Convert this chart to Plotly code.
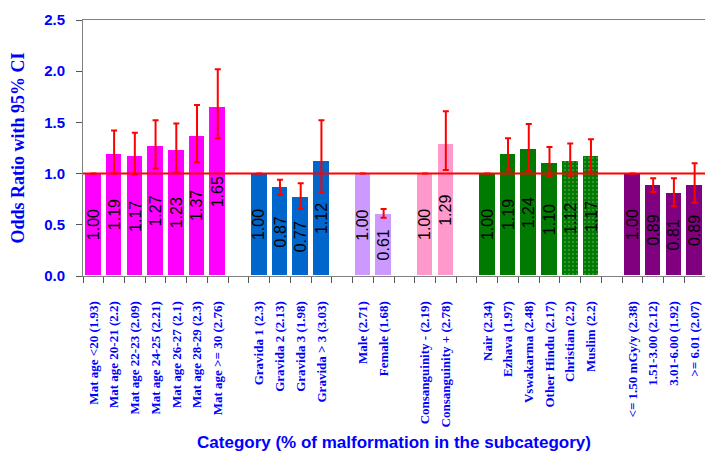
import plotly.graph_objects as go

# --- data ---
groups = [
    ["Mat age <20 (1.93)", "Mat age 20-21 (2.2)", "Mat age 22-23 (2.09)", "Mat age 24-25 (2.21)",
     "Mat age 26-27 (2.1)", "Mat age 28-29 (2.3)", "Mat age >= 30 (2.76)"],
    ["Gravida 1 (2.3)", "Gravida 2 (2.13)", "Gravida 3 (1.98)", "Gravida > 3 (3.03)"],
    ["Male (2.71)", "Female (1.68)"],
    ["Consanguinity - (2.19)", "Consanguinity + (2.78)"],
    ["Nair (2.34)", "Ezhava (1.97)", "Vswakarma (2.48)", "Other Hindu (2.17)", "Christian (2.2)", "Muslim (2.2)"],
    ["<= 1.50 mGy/y (2.38)", "1.51-3.00 (2.12)", "3.01-6.00 (1.92)", ">= 6.01 (2.07)"],
]
odds = [1.00, 1.19, 1.17, 1.27, 1.23, 1.37, 1.65,
        1.00, 0.87, 0.77, 1.12,
        1.00, 0.61,
        1.00, 1.29,
        1.00, 1.19, 1.24, 1.10, 1.12, 1.17,
        1.00, 0.89, 0.81, 0.89]
ci_low = [1.00, 1.00, 0.99, 1.05, 1.01, 1.11, 1.345,
          1.00, 0.79, 0.655, 0.82,
          1.00, 0.57,
          1.00, 1.035,
          1.00, 1.04, 1.03, 0.97, 0.98, 1.02,
          1.00, 0.82, 0.68, 0.715]
ci_high = [1.00, 1.42, 1.40, 1.52, 1.49, 1.67, 2.02,
           1.00, 0.94, 0.905, 1.52,
           1.00, 0.655,
           1.00, 1.61,
           1.00, 1.345, 1.485, 1.26, 1.295, 1.335,
           1.00, 0.955, 0.955, 1.10]
group_colors = ["#FF00FF", "#0066CC", "#CC99FF", "#FF99CC", "#007A00", "#800080"]
dotted = ["Christian (2.2)", "Muslim (2.2)"]

# lay the groups out with one empty slot between them
xs, labels, colors, patterns = [], [], [], []
pos = 0
for g, cats in enumerate(groups):
    for c in cats:
        xs.append(pos)
        labels.append(c)
        colors.append(group_colors[g])
        patterns.append("." if c in dotted else "")
        pos += 1
    pos += 1
n_slots = pos - 1

fig = go.Figure()
fig.add_trace(go.Bar(
    x=xs, y=odds, width=0.8,
    marker=dict(color=colors, line=dict(color="white", width=1),
                pattern=dict(shape=patterns, fgcolor="white", size=4, solidity=0.1)),
    error_y=dict(type="data", symmetric=False,
                 array=[h - v for h, v in zip(ci_high, odds)],
                 arrayminus=[v - l for v, l in zip(odds, ci_low)],
                 color="red", thickness=2, width=3),
    showlegend=False,
))

# value labels, rotated, centred in each bar
for x, v in zip(xs, odds):
    fig.add_annotation(x=x, y=v / 2, text=f"{v:.2f}", textangle=-90, showarrow=False,
                       font=dict(family="Liberation Sans, Arial", size=16, color="black"))

fig.add_shape(type="line", xref="paper", yref="y", x0=0, x1=1, y0=1, y1=1,
              line=dict(color="red", width=2))

# the page body has an 8px margin, so the figure is sized/offset for it
fig.update_layout(
    width=697, height=446,
    margin=dict(l=75, r=0, t=12, b=178),
    plot_bgcolor="white", paper_bgcolor="white",
    bargap=0,
    xaxis=dict(
        range=[-0.5, n_slots - 0.5], automargin=False,
        tickmode="array", tickvals=xs, ticktext=labels, tickangle=-90,
        ticks="outside", ticklen=19, tickcolor="rgba(0,0,0,0)",
        tickfont=dict(family="Liberation Serif, Times New Roman", size=13, color="blue", weight="bold"),
        minor=dict(tickmode="array", tickvals=[i - 0.5 for i in range(n_slots + 1)],
                   ticks="outside", ticklen=6, tickcolor="#555555", tickwidth=1),
        showline=True, linecolor="#808080", linewidth=1, mirror=True,
        showgrid=False, zeroline=False,
        title=dict(text="Category (% of malformation in the subcategory)", standoff=9,
                   font=dict(family="Liberation Sans, Arial", size=17, color="blue", weight="bold")),
    ),
    yaxis=dict(
        range=[0, 2.5], tickvals=[0, 0.5, 1.0, 1.5, 2.0, 2.5], tickformat=".1f", automargin=False,
        ticks="outside", ticklen=6, tickcolor="#555555", ticklabelstandoff=8,
        tickfont=dict(family="Liberation Sans, Arial", size=15, color="blue", weight="bold"),
        showline=True, linecolor="#808080", linewidth=1,
        showgrid=False, zeroline=False,
        title=dict(text="Odds Ratio with 95% CI", standoff=16,
                   font=dict(family="Liberation Serif, Times New Roman", size=18, color="blue", weight="bold")),
    ),
)

fig.write_html("out.html")
